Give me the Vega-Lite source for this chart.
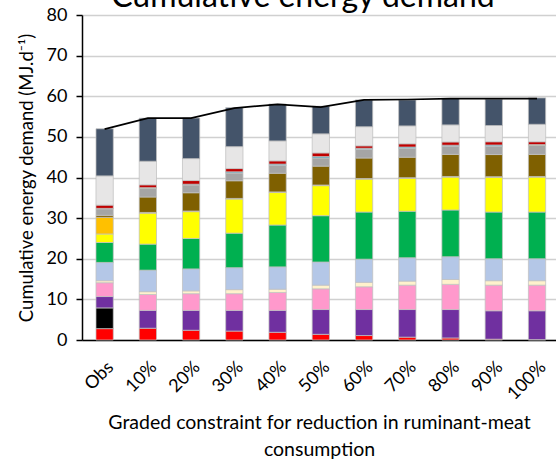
{
  "$schema": "https://vega.github.io/schema/vega-lite/v6.json",
  "autosize": {"type": "none"},
  "padding": {"left": 82, "top": 15, "right": 0, "bottom": 119},
  "width": 474,
  "height": 325,
  "background": "white",
  "config": {"font": "Lato", "view": {"stroke": null}},
  "title": {"text": "Cumulative energy demand", "fontSize": 32, "fontWeight": "normal", "color": "#000000", "offset": -33, "baseline": "alphabetic", "dx": -16, "font": "Lato"},
  "datasets": {
    "bars": [
      {"scenario": "Obs", "group": "16 Ruminant meat", "value": 2.8},
      {"scenario": "Obs", "group": "15 Offal", "value": 5.1},
      {"scenario": "Obs", "group": "14 Pork", "value": 2.8},
      {"scenario": "Obs", "group": "13 Poultry", "value": 3.4},
      {"scenario": "Obs", "group": "12 Eggs", "value": 0.5},
      {"scenario": "Obs", "group": "11 Fish", "value": 4.5},
      {"scenario": "Obs", "group": "10 Pulses", "value": 4.9},
      {"scenario": "Obs", "group": "09 Nuts", "value": 2.1},
      {"scenario": "Obs", "group": "08 Other", "value": 4.1},
      {"scenario": "Obs", "group": "07 Cereals", "value": 0.5},
      {"scenario": "Obs", "group": "06 Vegetables", "value": 1.6},
      {"scenario": "Obs", "group": "05 Herbs", "value": 0.1},
      {"scenario": "Obs", "group": "03 Sugar", "value": 0.8},
      {"scenario": "Obs", "group": "02 Oils", "value": 7.2},
      {"scenario": "Obs", "group": "01 Dairy", "value": 11.6},

      {"scenario": "10%", "group": "16 Ruminant meat", "value": 2.9},
      {"scenario": "10%", "group": "14 Pork", "value": 4.4},
      {"scenario": "10%", "group": "13 Poultry", "value": 3.9},
      {"scenario": "10%", "group": "12 Eggs", "value": 0.7},
      {"scenario": "10%", "group": "11 Fish", "value": 5.3},
      {"scenario": "10%", "group": "10 Pulses", "value": 6.4},
      {"scenario": "10%", "group": "09 Nuts", "value": 7.6},
      {"scenario": "10%", "group": "08 Other", "value": 0.2},
      {"scenario": "10%", "group": "07 Cereals", "value": 3.8},
      {"scenario": "10%", "group": "06 Vegetables", "value": 2.1},
      {"scenario": "10%", "group": "05 Herbs", "value": 0.2},
      {"scenario": "10%", "group": "03 Sugar", "value": 0.7},
      {"scenario": "10%", "group": "02 Oils", "value": 5.8},
      {"scenario": "10%", "group": "01 Dairy", "value": 10.6},

      {"scenario": "20%", "group": "16 Ruminant meat", "value": 2.4},
      {"scenario": "20%", "group": "14 Pork", "value": 4.9},
      {"scenario": "20%", "group": "13 Poultry", "value": 4.1},
      {"scenario": "20%", "group": "12 Eggs", "value": 0.7},
      {"scenario": "20%", "group": "11 Fish", "value": 5.4},
      {"scenario": "20%", "group": "10 Pulses", "value": 7.5},
      {"scenario": "20%", "group": "09 Nuts", "value": 6.6},
      {"scenario": "20%", "group": "08 Other", "value": 0.15},
      {"scenario": "20%", "group": "07 Cereals", "value": 4.5},
      {"scenario": "20%", "group": "06 Vegetables", "value": 1.9},
      {"scenario": "20%", "group": "04 Fruit", "value": 0.2},
      {"scenario": "20%", "group": "03 Sugar", "value": 0.9},
      {"scenario": "20%", "group": "02 Oils", "value": 5.4},
      {"scenario": "20%", "group": "01 Dairy", "value": 10.0},

      {"scenario": "30%", "group": "16 Ruminant meat", "value": 2.2},
      {"scenario": "30%", "group": "14 Pork", "value": 5.1},
      {"scenario": "30%", "group": "13 Poultry", "value": 4.1},
      {"scenario": "30%", "group": "12 Eggs", "value": 1.0},
      {"scenario": "30%", "group": "11 Fish", "value": 5.4},
      {"scenario": "30%", "group": "10 Pulses", "value": 8.5},
      {"scenario": "30%", "group": "09 Nuts", "value": 8.4},
      {"scenario": "30%", "group": "08 Other", "value": 0.15},
      {"scenario": "30%", "group": "07 Cereals", "value": 4.35},
      {"scenario": "30%", "group": "06 Vegetables", "value": 1.9},
      {"scenario": "30%", "group": "04 Fruit", "value": 0.3},
      {"scenario": "30%", "group": "03 Sugar", "value": 0.8},
      {"scenario": "30%", "group": "02 Oils", "value": 5.4},
      {"scenario": "30%", "group": "01 Dairy", "value": 9.6},

      {"scenario": "40%", "group": "16 Ruminant meat", "value": 1.9},
      {"scenario": "40%", "group": "14 Pork", "value": 5.4},
      {"scenario": "40%", "group": "13 Poultry", "value": 4.4},
      {"scenario": "40%", "group": "12 Eggs", "value": 0.8},
      {"scenario": "40%", "group": "11 Fish", "value": 5.5},
      {"scenario": "40%", "group": "10 Pulses", "value": 10.3},
      {"scenario": "40%", "group": "09 Nuts", "value": 8.0},
      {"scenario": "40%", "group": "08 Other", "value": 0.15},
      {"scenario": "40%", "group": "07 Cereals", "value": 4.6},
      {"scenario": "40%", "group": "06 Vegetables", "value": 1.9},
      {"scenario": "40%", "group": "04 Fruit", "value": 0.35},
      {"scenario": "40%", "group": "03 Sugar", "value": 0.8},
      {"scenario": "40%", "group": "02 Oils", "value": 4.9},
      {"scenario": "40%", "group": "01 Dairy", "value": 9.1},

      {"scenario": "50%", "group": "16 Ruminant meat", "value": 1.4},
      {"scenario": "50%", "group": "14 Pork", "value": 6.1},
      {"scenario": "50%", "group": "13 Poultry", "value": 5.1},
      {"scenario": "50%", "group": "12 Eggs", "value": 0.9},
      {"scenario": "50%", "group": "11 Fish", "value": 5.7},
      {"scenario": "50%", "group": "10 Pulses", "value": 11.4},
      {"scenario": "50%", "group": "09 Nuts", "value": 7.4},
      {"scenario": "50%", "group": "08 Other", "value": 0.15},
      {"scenario": "50%", "group": "07 Cereals", "value": 4.65},
      {"scenario": "50%", "group": "06 Vegetables", "value": 2.0},
      {"scenario": "50%", "group": "04 Fruit", "value": 0.35},
      {"scenario": "50%", "group": "03 Sugar", "value": 0.9},
      {"scenario": "50%", "group": "02 Oils", "value": 4.7},
      {"scenario": "50%", "group": "01 Dairy", "value": 6.8},

      {"scenario": "60%", "group": "16 Ruminant meat", "value": 1.1},
      {"scenario": "60%", "group": "14 Pork", "value": 6.4},
      {"scenario": "60%", "group": "13 Poultry", "value": 5.6},
      {"scenario": "60%", "group": "12 Eggs", "value": 1.1},
      {"scenario": "60%", "group": "11 Fish", "value": 5.7},
      {"scenario": "60%", "group": "10 Pulses", "value": 11.6},
      {"scenario": "60%", "group": "09 Nuts", "value": 8.1},
      {"scenario": "60%", "group": "08 Other", "value": 0.15},
      {"scenario": "60%", "group": "07 Cereals", "value": 5.05},
      {"scenario": "60%", "group": "06 Vegetables", "value": 2.1},
      {"scenario": "60%", "group": "04 Fruit", "value": 0.3},
      {"scenario": "60%", "group": "03 Sugar", "value": 0.6},
      {"scenario": "60%", "group": "02 Oils", "value": 4.7},
      {"scenario": "60%", "group": "01 Dairy", "value": 6.6},

      {"scenario": "70%", "group": "16 Ruminant meat", "value": 0.7},
      {"scenario": "70%", "group": "14 Pork", "value": 6.8},
      {"scenario": "70%", "group": "13 Poultry", "value": 6.0},
      {"scenario": "70%", "group": "12 Eggs", "value": 1.0},
      {"scenario": "70%", "group": "11 Fish", "value": 5.75},
      {"scenario": "70%", "group": "10 Pulses", "value": 11.45},
      {"scenario": "70%", "group": "09 Nuts", "value": 8.1},
      {"scenario": "70%", "group": "08 Other", "value": 0.15},
      {"scenario": "70%", "group": "07 Cereals", "value": 5.05},
      {"scenario": "70%", "group": "06 Vegetables", "value": 2.15},
      {"scenario": "70%", "group": "04 Fruit", "value": 0.35},
      {"scenario": "70%", "group": "03 Sugar", "value": 0.8},
      {"scenario": "70%", "group": "02 Oils", "value": 4.4},
      {"scenario": "70%", "group": "01 Dairy", "value": 6.4},

      {"scenario": "80%", "group": "16 Ruminant meat", "value": 0.5},
      {"scenario": "80%", "group": "14 Pork", "value": 7.0},
      {"scenario": "80%", "group": "13 Poultry", "value": 6.2},
      {"scenario": "80%", "group": "12 Eggs", "value": 1.2},
      {"scenario": "80%", "group": "11 Fish", "value": 5.6},
      {"scenario": "80%", "group": "10 Pulses", "value": 11.5},
      {"scenario": "80%", "group": "09 Nuts", "value": 8.1},
      {"scenario": "80%", "group": "08 Other", "value": 0.15},
      {"scenario": "80%", "group": "07 Cereals", "value": 5.45},
      {"scenario": "80%", "group": "06 Vegetables", "value": 2.0},
      {"scenario": "80%", "group": "04 Fruit", "value": 0.25},
      {"scenario": "80%", "group": "03 Sugar", "value": 0.8},
      {"scenario": "80%", "group": "02 Oils", "value": 4.2},
      {"scenario": "80%", "group": "01 Dairy", "value": 6.5},

      {"scenario": "90%", "group": "16 Ruminant meat", "value": 0.2},
      {"scenario": "90%", "group": "14 Pork", "value": 7.0},
      {"scenario": "90%", "group": "13 Poultry", "value": 6.3},
      {"scenario": "90%", "group": "12 Eggs", "value": 1.1},
      {"scenario": "90%", "group": "11 Fish", "value": 5.4},
      {"scenario": "90%", "group": "10 Pulses", "value": 11.5},
      {"scenario": "90%", "group": "09 Nuts", "value": 8.55},
      {"scenario": "90%", "group": "08 Other", "value": 0.15},
      {"scenario": "90%", "group": "07 Cereals", "value": 5.45},
      {"scenario": "90%", "group": "06 Vegetables", "value": 2.05},
      {"scenario": "90%", "group": "04 Fruit", "value": 0.3},
      {"scenario": "90%", "group": "03 Sugar", "value": 0.8},
      {"scenario": "90%", "group": "02 Oils", "value": 4.0},
      {"scenario": "90%", "group": "01 Dairy", "value": 6.5},

      {"scenario": "100%", "group": "16 Ruminant meat", "value": 0.1},
      {"scenario": "100%", "group": "14 Pork", "value": 7.1},
      {"scenario": "100%", "group": "13 Poultry", "value": 6.3},
      {"scenario": "100%", "group": "12 Eggs", "value": 1.1},
      {"scenario": "100%", "group": "11 Fish", "value": 5.4},
      {"scenario": "100%", "group": "10 Pulses", "value": 11.5},
      {"scenario": "100%", "group": "09 Nuts", "value": 8.6},
      {"scenario": "100%", "group": "08 Other", "value": 0.15},
      {"scenario": "100%", "group": "07 Cereals", "value": 5.45},
      {"scenario": "100%", "group": "06 Vegetables", "value": 2.2},
      {"scenario": "100%", "group": "05 Herbs", "value": 0.2},
      {"scenario": "100%", "group": "03 Sugar", "value": 0.7},
      {"scenario": "100%", "group": "02 Oils", "value": 4.3},
      {"scenario": "100%", "group": "01 Dairy", "value": 6.5}
    ],
    "total": [
      {"scenario": "Obs", "total": 51.9},
      {"scenario": "10%", "total": 54.6},
      {"scenario": "20%", "total": 54.6},
      {"scenario": "30%", "total": 57.1},
      {"scenario": "40%", "total": 58.0},
      {"scenario": "50%", "total": 57.3},
      {"scenario": "60%", "total": 59.1},
      {"scenario": "70%", "total": 59.2},
      {"scenario": "80%", "total": 59.4},
      {"scenario": "90%", "total": 59.4},
      {"scenario": "100%", "total": 59.4}
    ]
  },
  "encoding": {
    "x": {
      "field": "scenario", "type": "nominal",
      "sort": ["Obs", "10%", "20%", "30%", "40%", "50%", "60%", "70%", "80%", "90%", "100%"],
      "scale": {"paddingInner": 0.6, "paddingOuter": 0.281, "align": 0.575},
      "axis": {
        "title": ["Graded constraint for reduction in ruminant-meat", "consumption"],
        "titleFontSize": 19.5, "titleFontWeight": "normal", "titleColor": "#000000", "titlePadding": 10, "titleLineHeight": 27,
        "labelAngle": -45, "labelFontSize": 18, "labelColor": "#000000", "labelPadding": 18,
        "ticks": false, "domainColor": "#000000", "domainWidth": 1.5, "grid": false
      }
    }
  },
  "layer": [
    {
      "data": {"name": "bars"},
      "mark": {"type": "bar", "stroke": "#c0c0c0", "strokeWidth": 0.75},
      "encoding": {
        "y": {
          "field": "value", "type": "quantitative", "aggregate": "sum",
          "scale": {"domain": [0, 80], "nice": false},
          "axis": {
            "title": "Cumulative energy demand (MJ.d⁻¹)",
            "titleFontSize": 18.5, "titleFontWeight": "normal", "titleColor": "#000000", "titlePadding": 10,
            "values": [0, 10, 20, 30, 40, 50, 60, 70, 80],
            "labelFontSize": 18, "labelColor": "#000000", "labelPadding": 9,
            "tickColor": "#000000", "tickSize": 6, "tickWidth": 1.5,
            "domainColor": "#000000", "domainWidth": 1.5,
            "gridColor": "#d0d0d0", "gridWidth": 1.5
          }
        },
        "color": {
          "field": "group", "type": "nominal", "legend": null,
          "scale": {
            "domain": ["16 Ruminant meat", "15 Offal", "14 Pork", "13 Poultry", "12 Eggs", "11 Fish", "10 Pulses", "09 Nuts", "08 Other", "07 Cereals", "06 Vegetables", "05 Herbs", "04 Fruit", "03 Sugar", "02 Oils", "01 Dairy"],
            "range": ["#ff0000", "#000000", "#7030a0", "#ff99cc", "#fff2cc", "#b4c7e7", "#00b050", "#ffff00", "#ffc000", "#7f6000", "#a5a5a5", "#70ad47", "#4bacc6", "#c00000", "#e7e6e6", "#44546a"]
          }
        }
      }
    },
    {
      "data": {"name": "total"},
      "mark": {"type": "line", "color": "#000000", "strokeWidth": 1.75},
      "encoding": {
        "y": {"field": "total", "type": "quantitative"}
      }
    }
  ]
}
